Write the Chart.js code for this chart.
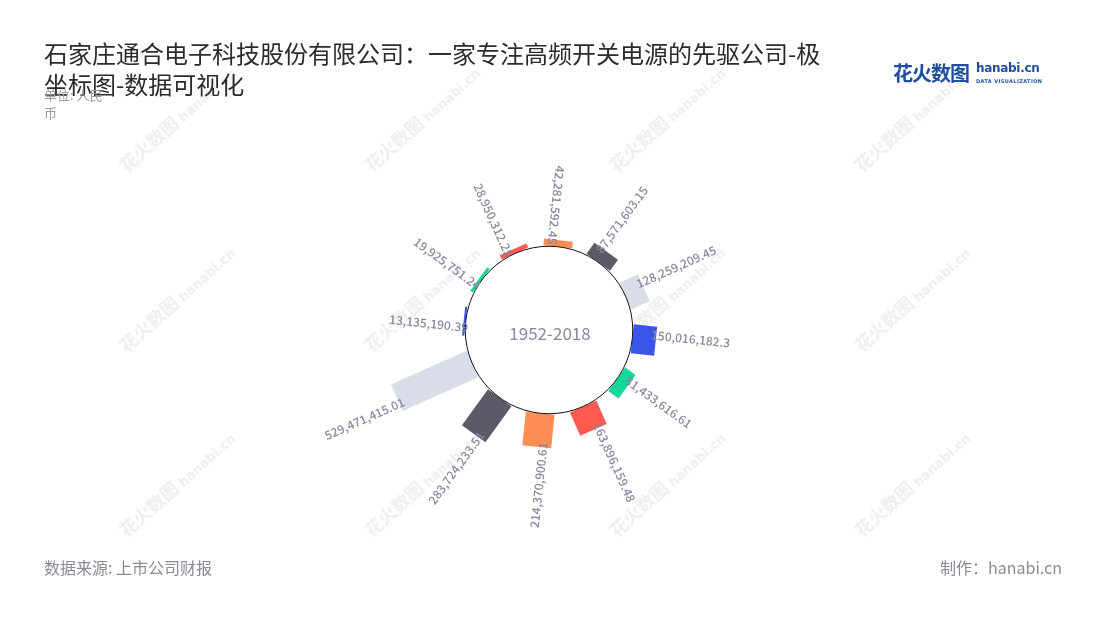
<!DOCTYPE html>
<html>
<head>
<meta charset="utf-8">
<script src="https://cdn.jsdelivr.net/npm/chart.js@4/dist/chart.umd.min.js"></script>
<style>
	body { margin: 0; background: #fff; font-family: "Noto Sans CJK SC", "Noto Sans", sans-serif; }
	.wrap { position: relative; width: 1100px; height: 620px; overflow: hidden; }
	#chart { position: absolute; left: 0; top: 0; }
	.title { position: absolute; left: 44px; top: 37px; width: 790px; font-size: 24px; line-height: 31px; color: #2b2b2b; }
	.unit { position: absolute; left: 44px; top: 86px; width: 64px; font-size: 13px; line-height: 18px; color: #9a9aa6; }
	.source { position: absolute; left: 44px; top: 555px; font-size: 16px; color: #8a8a96; }
	.maker { position: absolute; right: 38px; top: 555px; font-size: 16px; color: #8a8a96; }
	.logo { position: absolute; left: 893px; top: 58px; color: #1f4e9f; font-weight: bold; }
	.logo .cn { font-size: 20px; letter-spacing: -1px; }
	.logo .en { position: absolute; left: 83px; top: 3px; font-family: "DejaVu Sans"; font-size: 12px; white-space: nowrap; letter-spacing: -0.3px; }
	.logo .sub { position: absolute; left: 83px; top: 20px; font-family: "DejaVu Sans"; font-size: 5px; white-space: nowrap; letter-spacing: 0.4px; }
	.wm { position: absolute; color: #efeff1; font-weight: bold; font-size: 18px; white-space: nowrap; transform: rotate(-42deg); transform-origin: left bottom; }
	.wm small { font-family: "DejaVu Sans"; font-size: 13px; margin-left: 4px; }
</style>
</head>
<body>
<div class="wrap">
	<div id="wms"></div>
	<canvas id="chart" width="1100" height="620"></canvas>
	<div class="title">石家庄通合电子科技股份有限公司：一家专注高频开关电源的先驱公司-极坐标图-数据可视化</div>
	<div class="unit">单位: 人民币</div>
	<div class="logo"><span class="cn">花火数图</span><span class="en">hanabi.cn</span><span class="sub">DATA VISUALIZATION</span></div>
	<div class="source">数据来源: 上市公司财报</div>
	<div class="maker">制作：hanabi.cn</div>
</div>
<script>
var years = ['2007', '2008', '2009', '2010', '2011', '2012', '2013', '2014', '2015', '2016', '2017', '2018'];
var revenue = [13135190.39, 19925751.24, 28950312.25, 42281592.45, 87571603.15, 128259209.45, 150016182.3, 81433616.61, 163896159.48, 214370900.61, 283724233.51, 529471415.01];
var barColors = ['#3b55e8', '#15d79b', '#ff5b52', '#ff8e55', '#5b5b67', '#d9dde8', '#3b55e8', '#15d79b', '#ff5b52', '#ff8e55', '#5b5b67', '#d9dde8'];
var centerText = '1952-2018';

var barWidth = 29;
var labelColor = '#8888a0';

// watermark grid
var wmHtml = '';
[175, 355, 540].forEach(function (y) {
	[130, 375, 620, 865].forEach(function (x) {
		wmHtml += '<div class="wm" style="left:' + x + 'px;top:' + (y - 24) + 'px">花火数图<small>hanabi.cn</small></div>';
	});
});
document.getElementById('wms').innerHTML = wmHtml;

function fmt(v) {
	var parts = String(v).split('.');
	parts[0] = parts[0].replace(/\B(?=(\d{3})+(?!\d))/g, ',');
	return parts.join('.');
}

/*************************************
*          radial bar drawing        *
*************************************/
var radialBars = {
	id: 'radialBars',
	beforeDatasetsDraw: function (chart) {
		var ctx = chart.ctx;
		var scale = chart.scales.r;
		var meta = chart.getDatasetMeta(0);
		var base = scale.getDistanceFromCenterForValue(0);

		meta.data.forEach(function (arc) {
			var mid = (arc.startAngle + arc.endAngle) / 2;
			ctx.save();
			ctx.translate(arc.x, arc.y);
			ctx.rotate(mid);
			ctx.fillStyle = arc.options.backgroundColor;
			ctx.fillRect(base, -barWidth / 2, arc.outerRadius - base, barWidth);
			ctx.restore();
		});

		// hole
		ctx.save();
		ctx.beginPath();
		ctx.arc(scale.xCenter, scale.yCenter, base, 0, Math.PI * 2);
		ctx.fillStyle = '#fff';
		ctx.fill();
		ctx.lineWidth = 1;
		ctx.strokeStyle = '#111';
		ctx.stroke();
		ctx.font = '17px "Noto Sans CJK SC"';
		ctx.fillStyle = labelColor;
		ctx.textAlign = 'center';
		ctx.textBaseline = 'middle';
		ctx.fillText(centerText, scale.xCenter + 1, scale.yCenter + 4);
		ctx.restore();

		// value labels
		meta.data.forEach(function (arc, i) {
			var mid = (arc.startAngle + arc.endAngle) / 2;
			var deg = ((mid * 180 / Math.PI + 90) % 360 + 360) % 360;
			var flip = deg < 20 || deg >= 180;
			var r = arc.outerRadius - 5;
			ctx.save();
			ctx.translate(arc.x, arc.y);
			ctx.rotate(flip ? mid + Math.PI : mid);
			ctx.font = '500 12px "Noto Sans CJK SC"';
			ctx.fillStyle = labelColor;
			ctx.textBaseline = 'middle';
			if (flip) {
				ctx.textAlign = 'right';
				ctx.fillText(fmt(revenue[i]), -r, 6);
			} else {
				ctx.textAlign = 'left';
				ctx.fillText(fmt(revenue[i]), r, -6);
			}
			ctx.restore();
		});
		return false;
	}
};

var ctx = document.getElementById('chart').getContext('2d');
var chart = new Chart(ctx, {
	type: 'polarArea',
	data: {
		labels: years,
		datasets: [{
			data: revenue,
			backgroundColor: barColors,
			borderWidth: 0
		}]
	},
	options: {
		responsive: false,
		animation: false,
		layout: {
			padding: { left: 369, right: 371, top: 150, bottom: 110 }
		},
		scales: {
			r: {
				min: -535000000,
				max: 615000000,
				startAngle: 261,
				ticks: { display: false },
				grid: { display: false },
				angleLines: { display: false },
				pointLabels: { display: false }
			}
		},
		plugins: {
			legend: { display: false },
			tooltip: { enabled: false }
		}
	},
	plugins: [radialBars]
});
</script>
</body>
</html>
